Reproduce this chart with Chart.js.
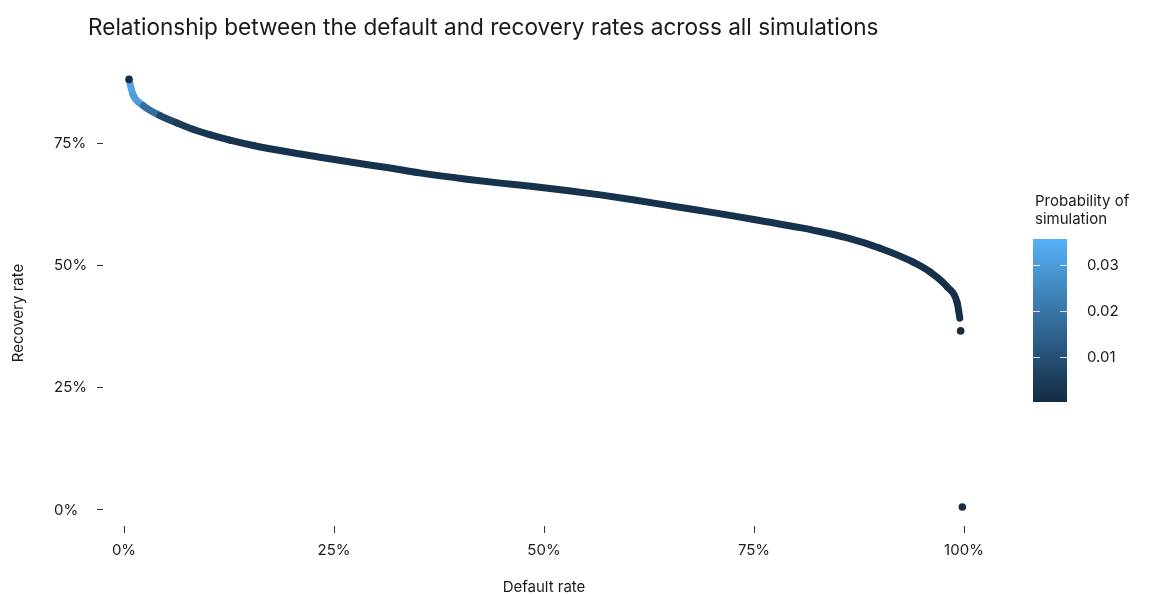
<!DOCTYPE html>
<html>
<head>
<meta charset="utf-8">
<script src="https://cdn.jsdelivr.net/npm/chart.js@4.4.1/dist/chart.umd.min.js"></script>
<style>
  html, body { margin: 0; padding: 0; background: #fff; }
</style>
</head>
<body>
<canvas id="chart" width="1153" height="596"></canvas>
<script>
// Simulated default rate vs recovery rate (in %)
const defaultRate = [0.7, 1.1, 2.3, 4.3, 6.3, 8.2, 10.2, 12.6, 15.4, 19.4, 23.3, 27.3, 31.3, 35.2, 40.8, 44.8, 48.7, 52.7, 56.7, 60.6, 64.6, 68.6, 72.5, 76.5, 80.5, 82.0, 86.1, 90.0, 93.9, 96.0, 98.0, 99.2, 99.5];
const recoveryRate = [87.2, 84.8, 82.6, 80.6, 79.1, 77.8, 76.7, 75.6, 74.5, 73.2, 72.1, 71.0, 70.0, 68.9, 67.6, 66.8, 66.1, 65.3, 64.4, 63.4, 62.3, 61.2, 60.1, 58.9, 57.7, 57.2, 55.6, 53.5, 50.7, 48.6, 45.6, 42.3, 39.2];
const probability = [0.03, 0.035, 0.026, 0.010, 0.005, 0.0035, 0.003, 0.0025, 0.002, 0.002, 0.002, 0.002, 0.002, 0.002, 0.002, 0.002, 0.002, 0.002, 0.002, 0.002, 0.002, 0.002, 0.002, 0.002, 0.002, 0.002, 0.002, 0.002, 0.0018, 0.0016, 0.0015, 0.0013, 0.0012];

// isolated simulations at the extremes
const edgeDefault = [0.6, 99.6, 99.8];
const edgeRecovery = [88.0, 36.6, 0.6];
const edgeProbability = [0.0005, 0.0005, 0.001];

const axisTicks = [0, 25, 50, 75, 100];
const legendTicks = [0.01, 0.02, 0.03];
const probMin = 0.0001;
const probMax = 0.0358;

const lowColor = [19, 43, 67];
const highColor = [86, 177, 247];

function probColor(p) {
  let t = (p - probMin) / (probMax - probMin);
  t = Math.max(0, Math.min(1, t));
  const c = lowColor.map((v, i) => Math.round(v + (highColor[i] - v) * t));
  return `rgb(${c[0]}, ${c[1]}, ${c[2]})`;
}

const FONT = "Inter, 'Noto Sans', sans-serif";
const TEXT = "#1a1a1a";

const extras = {
  id: "extras",
  afterDraw(chart) {
    const ctx = chart.ctx;
    ctx.save();
    // title
    ctx.fillStyle = TEXT;
    ctx.font = `22.6px ${FONT}`;
    ctx.textBaseline = "middle";
    ctx.textAlign = "left";
    ctx.fillText("Relationship between the default and recovery rates across all simulations", 88, 28);

    // y axis title
    ctx.font = `15px ${FONT}`;
    ctx.save();
    ctx.translate(18, 313);
    ctx.rotate(-Math.PI / 2);
    ctx.textAlign = "center";
    ctx.fillText("Recovery rate", 0, 0);
    ctx.restore();

    // colour bar legend
    const bx = 1033, bw = 34, top = 239, bottom = 402;
    ctx.fillText("Probability of", 1035, 201);
    ctx.fillText("simulation", 1035, 219);

    const grad = ctx.createLinearGradient(0, bottom, 0, top);
    grad.addColorStop(0, probColor(probMin));
    grad.addColorStop(1, probColor(probMax));
    ctx.fillStyle = grad;
    ctx.fillRect(bx, top, bw, bottom - top);

    legendTicks.forEach(v => {
      const y = Math.round(bottom - (v - probMin) / (probMax - probMin) * (bottom - top)) + 0.5;
      ctx.strokeStyle = "rgba(255,255,255,0.8)";
      ctx.lineWidth = 1;
      ctx.beginPath();
      ctx.moveTo(bx, y); ctx.lineTo(bx + 7, y);
      ctx.moveTo(bx + bw - 7, y); ctx.lineTo(bx + bw, y);
      ctx.stroke();
      ctx.fillStyle = TEXT;
      ctx.fillText(v.toFixed(2), 1087, y);
    });
    ctx.restore();
  }
};

const tickFont = { family: FONT, size: 15 };

new Chart(document.getElementById("chart"), {
  type: "scatter",
  data: {
    datasets: [
      {
        label: "edge",
        order: 0,
        data: edgeDefault.map((x, i) => ({ x: x, y: edgeRecovery[i] })),
        pointRadius: 3.8,
        borderWidth: 0,
        backgroundColor: edgeProbability.map(probColor),
        clip: false
      },
      {
        label: "curve",
        order: 1,
        data: defaultRate.map((x, i) => ({ x: x, y: recoveryRate[i] })),
        showLine: true,
        borderWidth: 7,
        borderColor: probColor(0.002),
        borderCapStyle: "round",
        borderJoinStyle: "round",
        cubicInterpolationMode: "monotone",
        pointRadius: 0,
        clip: false,
        segment: {
          borderColor: c => probColor((probability[c.p0DataIndex] + probability[c.p1DataIndex]) / 2)
        }
      }
    ]
  },
  options: {
    responsive: false,
    animation: false,
    layout: { padding: { top: 70, right: 168, bottom: 0, left: 54 } },
    plugins: {
      legend: { display: false },
      tooltip: { enabled: false },
      title: { display: false }
    },
    scales: {
      x: {
        type: "linear",
        min: -2.5,
        max: 102.5,
        afterBuildTicks: s => { s.ticks = axisTicks.map(v => ({ value: v })); },
        afterFit: s => { s.height = 70; },
        ticks: { callback: v => v + "%", font: tickFont, color: TEXT, padding: 8, maxRotation: 0 },
        grid: { drawOnChartArea: false, drawTicks: true, tickLength: 7, tickColor: "#333" },
        border: { display: false },
        title: { display: true, text: "Default rate", font: tickFont, color: TEXT, padding: { top: 0, bottom: 0 } }
      },
      y: {
        type: "linear",
        min: -3.27,
        max: 89.92,
        afterBuildTicks: s => { s.ticks = axisTicks.slice(0, 4).map(v => ({ value: v })); },
        afterFit: s => { s.width = 49; },
        ticks: { callback: v => v + "%", font: tickFont, color: TEXT, padding: 7, crossAlign: "far" },
        grid: { drawOnChartArea: false, drawTicks: true, tickLength: 6, tickColor: "#333" },
        border: { display: false }
      }
    }
  },
  plugins: [extras]
});
</script>
</body>
</html>
